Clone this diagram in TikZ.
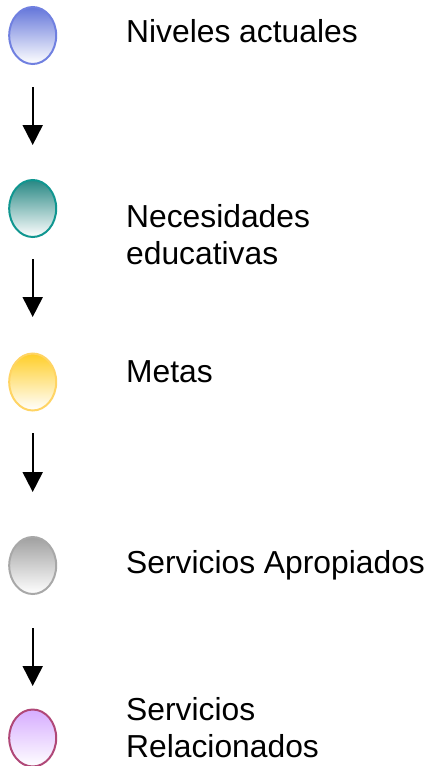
\documentclass[tikz,border=0pt]{standalone}
\usepackage{fontspec}
\setmainfont{Liberation Sans}
\usetikzlibrary{shapes.geometric,arrows.meta}

\begin{document}
\begin{tikzpicture}[x=1pt,y=1pt,yscale=-1,xscale=1,
  bulb/.style={ellipse,minimum width=47pt,minimum height=57pt,inner sep=0pt,line width=2pt,bottom color=white},
  label/.style={anchor=base west,inner sep=0pt,align=left,font=\fontsize{31.8}{37}\selectfont},
  flow/.style={line width=2pt,-{Triangle[width=20pt,length=20pt]}}]
\useasboundingbox (0,0) rectangle (429,766);

%Shape: Ellipse [id:niveles]
\node (e1) at (32.7,35.5) [bulb,draw={rgb, 255:red, 112; green, 128; blue, 224 },top color={rgb, 255:red, 100; green, 118; blue, 218 }] {};
%Shape: Ellipse [id:necesidades]
\node (e2) at (32.7,208.5) [bulb,draw={rgb, 255:red, 16; green, 150; blue, 144 },top color={rgb, 255:red, 40; green, 136; blue, 132 }] {};
%Shape: Ellipse [id:metas]
\node (e3) at (32.7,382) [bulb,draw={rgb, 255:red, 255; green, 212; blue, 100 },top color={rgb, 255:red, 255; green, 206; blue, 40 }] {};
%Shape: Ellipse [id:apropiados]
\node (e4) at (32.7,565.5) [bulb,draw={rgb, 255:red, 168; green, 168; blue, 168 },top color={rgb, 255:red, 160; green, 160; blue, 160 }] {};
%Shape: Ellipse [id:relacionados]
\node (e5) at (32.7,738) [bulb,draw={rgb, 255:red, 176; green, 72; blue, 120 },top color={rgb, 255:red, 214; green, 172; blue, 255 }] {};

%Arrow ends
\coordinate (a1) at (32.7,87);   \coordinate (b1) at (32.7,145);
\coordinate (a2) at (32.7,259);  \coordinate (b2) at (32.7,317);
\coordinate (a3) at (32.7,433);  \coordinate (b3) at (32.7,492);
\coordinate (a4) at (32.7,628);  \coordinate (b4) at (32.7,686);

%Straight Lines
\draw [flow] (a1) -- (b1);
\draw [flow] (a2) -- (b2);
\draw [flow] (a3) -- (b3);
\draw [flow] (a4) -- (b4);

% Text Node
\node (t1) at (126,42) [label] {Niveles actuales};
% Text Node
\node (t2) at (126,264) [label] {Necesidades\\educativas};
% Text Node
\node (t3) at (126,382) [label] {Metas};
% Text Node
\node (t4) at (126,573) [label] {Servicios Apropiados};
% Text Node
\node (t5) at (126,757) [label] {Servicios\\Relacionados};

\end{tikzpicture}
\end{document}
